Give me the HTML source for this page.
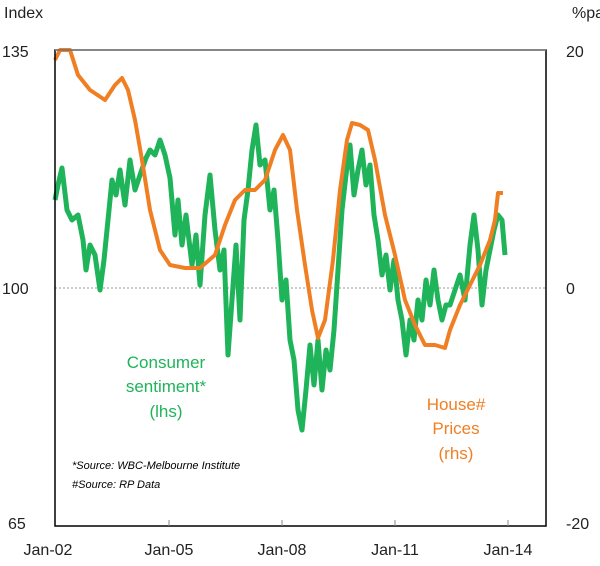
<!DOCTYPE html>
<html><head><style>body{margin:0;background:#fff}</style></head><body>
<svg width="600" height="561" xmlns="http://www.w3.org/2000/svg" font-family="Liberation Sans, Arial, sans-serif">
<rect width="600" height="561" fill="#fff"/>
<line x1="55" y1="288" x2="546" y2="288" stroke="#999" stroke-width="1" stroke-dasharray="2,2"/>
<polyline fill="none" stroke="#1fb35a" stroke-width="5" stroke-linejoin="round" points="55,200 58,185 62,168 67,210 72,220 78,215 83,240 86,270 90,245 95,255 100,290 104,260 108,220 112,180 116,195 120,170 125,205 130,160 135,190 140,175 146,158 150,150 155,155 160,140 165,155 170,178 175,235 178,200 182,245 186,215 192,265 196,235 200,285 205,215 210,175 215,230 220,270 224,250 228,355 232,300 236,245 240,320 244,220 248,190 252,150 256,125 260,165 265,160 270,210 274,190 278,240 282,300 286,280 290,340 294,360 298,410 302,430 306,390 310,345 314,385 318,340 322,390 326,350 330,370 334,330 338,270 342,210 346,175 350,145 354,195 358,170 362,150 366,185 370,165 374,215 378,240 382,275 386,255 390,290 394,260 398,300 402,320 406,355 410,320 414,340 418,300 422,320 426,280 430,305 434,270 438,300 442,320 446,305 450,305 455,290 460,275 465,300 470,245 474,215 478,250 482,305 486,270 490,250 494,230 498,215 502,220 505,255"/>
<polyline fill="none" stroke="#f07f23" stroke-width="4" stroke-linejoin="round" points="55,60 60,50 70,50 78,75 90,90 105,100 115,85 122,78 128,90 135,120 142,160 150,210 160,250 170,265 185,268 200,268 215,255 225,225 235,200 245,190 255,190 265,180 275,150 283,135 290,150 297,210 305,265 312,310 318,338 325,320 333,260 340,190 347,140 352,123 360,125 368,130 375,160 385,215 395,255 405,300 415,325 425,345 435,345 445,348 450,330 460,305 470,285 480,265 490,240 495,220 498,193 503,193"/>
<rect x="55" y="50" width="491" height="476" fill="none" stroke="#000" stroke-width="1.5"/>
<line x1="55" y1="50" x2="546" y2="50" stroke="#888" stroke-width="1.5"/>
<line x1="169" y1="520" x2="169" y2="526" stroke="#888"/><line x1="282" y1="520" x2="282" y2="526" stroke="#888"/><line x1="395" y1="520" x2="395" y2="526" stroke="#888"/><line x1="508" y1="520" x2="508" y2="526" stroke="#888"/>
<g font-size="16" fill="#222">
<text x="4" y="18">Index</text><text x="572" y="18">%pa</text>
<text x="2" y="57">135</text><text x="2" y="294">100</text><text x="8" y="529">65</text>
<text x="566" y="57">20</text><text x="566" y="294">0</text><text x="566" y="529">-20</text>
<g text-anchor="middle"><text x="48" y="555">Jan-02</text><text x="169" y="555">Jan-05</text><text x="282" y="555">Jan-08</text><text x="395" y="555">Jan-11</text><text x="508" y="555">Jan-14</text></g>
</g>
<g font-size="17" fill="#1fb35a" text-anchor="middle"><text x="166" y="368">Consumer</text><text x="166" y="392">sentiment*</text><text x="166" y="417">(lhs)</text></g>
<g font-size="17" fill="#f07f23" text-anchor="middle"><text x="456" y="410">House#</text><text x="456" y="434">Prices</text><text x="456" y="459">(rhs)</text></g>
<g font-size="11" font-style="italic" fill="#000"><text x="72" y="469">*Source: WBC-Melbourne Institute</text><text x="72" y="488">#Source: RP Data</text></g>
</svg>
</body></html>
